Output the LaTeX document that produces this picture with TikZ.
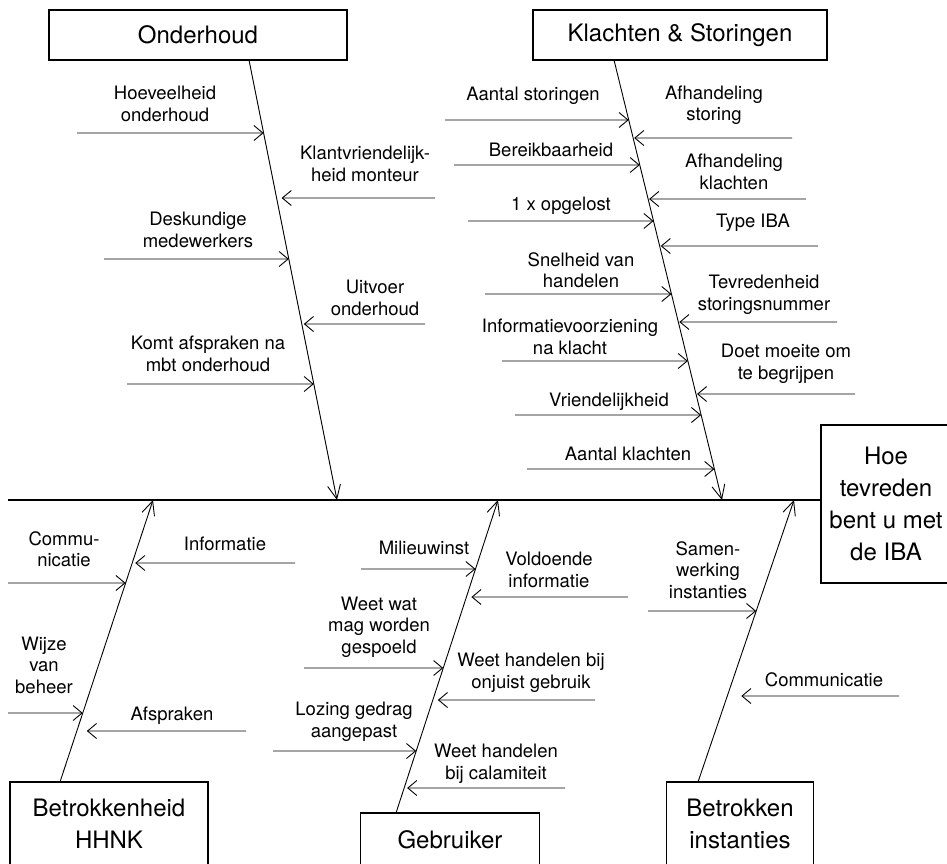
\documentclass[tikz,border=0pt]{standalone}
\usepackage{fontspec}
\setmainfont{TeX Gyre Heros}
\usetikzlibrary{arrows.meta,calc}
\tikzset{
	kop/.style={draw, line width=1.8pt, inner sep=0pt, align=center, font=\fontsize{24}{32}\selectfont},
	oorzaak/.style={align=center, inner sep=0pt, font=\fontsize{18.5}{21.5}\selectfont},
	graat/.style={line width=0.9pt, -{Straight Barb[length=14pt,width=13pt]}},
	pijl/.style={line width=0.9pt, -{Straight Barb[length=9pt,width=15pt]}}
}
\begin{document}
\begin{tikzpicture}[x=1pt, y=-1pt]
	\clip (0,0) rectangle (947,863);

	\node[kop, minimum width=298pt, minimum height=50pt] (onderhoud) at (198,35) {Onderhoud};
	\node[kop, minimum width=294pt, minimum height=50pt] (klachten) at (680,35) {Klachten \& Storingen};
	\node[kop, minimum width=130pt, minimum height=158pt] (hoe) at (886,504) {Hoe\\tevreden\\bent u met\\de IBA};
	\node[kop, minimum width=198pt, minimum height=84pt] (hhnk) at (109,824) {Betrokkenheid\\HHNK};
	\node[kop, minimum width=179pt, minimum height=54pt] (gebruiker) at (450,840) {Gebruiker};
	\node[kop, minimum width=147pt, minimum height=84pt] (instanties) at (740,824) {Betrokken\\instanties};

	\coordinate (staart) at (8,500);
	\draw[line width=2pt] (staart) -- (staart -| hoe.west);

	\coordinate (o1) at (249,60);
	\coordinate (o2) at (337,500);
	\coordinate (k1) at (614,60);
	\coordinate (k2) at (722,500);
	\coordinate (b1) at (60,782);
	\coordinate (b2) at (153,500);
	\coordinate (g1) at (396,813);
	\coordinate (g2) at (498,500);
	\coordinate (i1) at (698,782);
	\coordinate (i2) at (794,500);
	\draw[graat] (o1) -- (o2);
	\draw[graat] (k1) -- (k2);
	\draw[graat] (b1) -- (b2);
	\draw[graat] (g1) -- (g2);
	\draw[graat] (i1) -- (i2);

	\foreach \sx/\y/\g in {77/133/0, 104/259/0, 127/384/0, 435/198/5, 425/324/2}
		\draw[pijl, shorten >=\g pt] (\sx,\y) -- ($(o1)!{(\y-60)/440}!(o2)$);
	\foreach \sx/\y/\g in {445/120/0, 454/165/0, 468/221/0, 485/294/0, 502/361/0, 515/415/0, 527/469/0,
			792/138/1, 806/199/1, 818/246/1, 837/322/1, 855/394/1}
		\draw[pijl, shorten >=\g pt] (\sx,\y) -- ($(k1)!{(\y-60)/440}!(k2)$);
	\foreach \sx/\y/\g in {8/583/0, 8/713/0, 295/563/3, 246/731/10}
		\draw[pijl, shorten >=\g pt] (\sx,\y) -- ($(b1)!{(782-\y)/282}!(b2)$);
	\foreach \sx/\y/\g in {361/569/0, 304/668/0, 273/751/0, 628/597/5, 595/700/5, 565/788/3}
		\draw[pijl, shorten >=\g pt] (\sx,\y) -- ($(g1)!{(813-\y)/313}!(g2)$);
	\foreach \sx/\y/\g in {648/611/0, 899/696/14}
		\draw[pijl, shorten >=\g pt] (\sx,\y) -- ($(i1)!{(782-\y)/282}!(i2)$);

	\node[oorzaak] (hoeveelheid) at (165,104) {Hoeveelheid\\onderhoud};
	\node[oorzaak] (klantvr) at (365,164) {Klantvriendelijk-\\heid monteur};
	\node[oorzaak] (deskundig) at (198,230) {Deskundige\\medewerkers};
	\node[oorzaak] (uitvoer) at (375,298) {Uitvoer\\onderhoud};
	\node[oorzaak] (komt) at (208,354) {Komt afspraken na\\mbt onderhoud};

	\node[oorzaak] (aantalst) at (533,96) {Aantal storingen};
	\node[oorzaak] (afhst) at (714,105) {Afhandeling\\storing};
	\node[oorzaak] (bereik) at (551,150) {Bereikbaarheid};
	\node[oorzaak] (afhkl) at (734,172) {Afhandeling\\klachten};
	\node[oorzaak] (opgelost) at (561,206) {1 x opgelost};
	\node[oorzaak] (type) at (753,223) {Type IBA};
	\node[oorzaak] (snelheid) at (581,270) {Snelheid van\\handelen};
	\node[oorzaak] (tevreden) at (764,295) {Tevredenheid\\storingsnummer};
	\node[oorzaak] (infovz) at (570,337) {Informatievoorziening\\na klacht};
	\node[oorzaak] (moeite) at (786,364) {Doet moeite om\\te begrijpen};
	\node[oorzaak] (vriend) at (609,402) {Vriendelijkheid};
	\node[oorzaak] (aantalkl) at (628,454) {Aantal klachten};

	\node[oorzaak] (commu) at (64,549) {Commu-\\nicatie};
	\node[oorzaak] (informatie) at (225,544) {Informatie};
	\node[oorzaak] (wijze) at (44,665) {Wijze\\van\\beheer};
	\node[oorzaak] (afspraken) at (172,716) {Afspraken};

	\node[oorzaak] (milieu) at (424,548) {Milieuwinst};
	\node[oorzaak] (voldoende) at (549,570) {Voldoende\\informatie};
	\node[oorzaak] (weetwat) at (379,627) {Weet wat\\mag worden\\gespoeld};
	\node[oorzaak] (onjuist) at (531,673) {Weet handelen bij\\onjuist gebruik};
	\node[oorzaak] (lozing) at (354,722) {Lozing gedrag\\aangepast};
	\node[oorzaak] (calamiteit) at (496,764) {Weet handelen\\bij calamiteit};

	\node[oorzaak] (samen) at (708,570) {Samen-\\werking\\instanties};
	\node[oorzaak] (communicatie) at (824,680) {Communicatie};
\end{tikzpicture}
\end{document}
